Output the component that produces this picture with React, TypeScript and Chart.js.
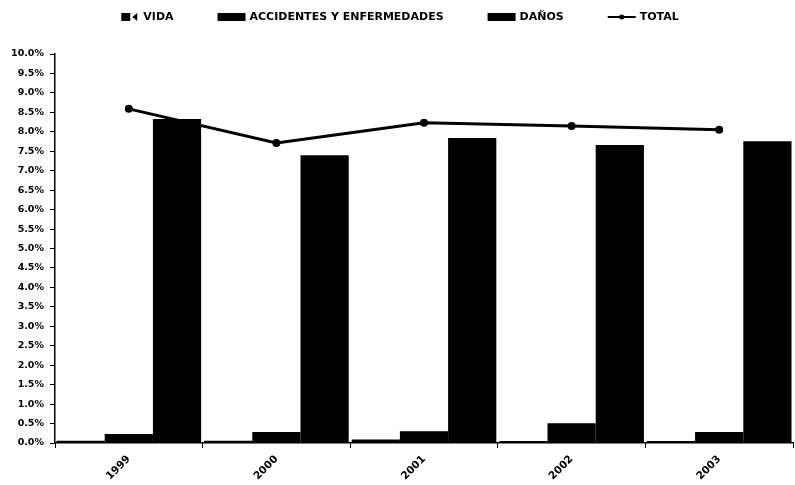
import React, { useEffect, useRef } from "react";
import { Chart, registerables } from "chart.js";

Chart.register(...registerables);

const categories = ["1999", "2000", "2001", "2002", "2003"];
const vida = [0.06, 0.06, 0.09, 0.05, 0.05];
const accidentes = [0.23, 0.28, 0.3, 0.51, 0.28];
const danos = [8.33, 7.4, 7.84, 7.66, 7.76];
const total = [8.59, 7.71, 8.23, 8.15, 8.05];
const yTickLabels = Array.from({ length: 21 }, (_, i) => (i * 0.5).toFixed(1) + "%");

const FONT = "'DejaVu Sans', 'Liberation Sans', Arial, sans-serif";

const legendPlugin = {
  id: "customLegend",
  afterDraw(chart: any) {
    const ctx = chart.ctx;
    ctx.save();
    ctx.font = `bold 11px ${FONT}`;
    ctx.fillStyle = "#000";
    ctx.strokeStyle = "#000";
    ctx.textBaseline = "middle";
    const y = 17;
    const bars = chart.data.datasets.filter((d: any) => d.type !== "line");
    const lines = chart.data.datasets.filter((d: any) => d.type === "line");
    const items = [...bars, ...lines].map((d: any) => ({ label: d.label, type: d.type || "bar" }));
    const gapMarker = 4;
    const gapItem = 44;
    const mw = (i: number) => (i === 0 ? 18 : 28);
    const widths = items.map((it: any, i: number) => mw(i) + gapMarker + ctx.measureText(it.label).width);
    const totalW = widths.reduce((a: number, b: number) => a + b, 0) + gapItem * (items.length - 1);
    let x = 400 - totalW / 2;
    items.forEach((it: any, i: number) => {
      const markerW = mw(i);
      if (it.type === "line") {
        ctx.lineWidth = 2;
        ctx.beginPath();
        ctx.moveTo(x, y);
        ctx.lineTo(x + markerW, y);
        ctx.stroke();
        ctx.beginPath();
        ctx.arc(x + markerW / 2, y, 2.5, 0, Math.PI * 2);
        ctx.fill();
      } else if (i === 0) {
        ctx.fillRect(x, y - 4, 9, 8);
        ctx.beginPath();
        ctx.moveTo(x + 11, y);
        ctx.lineTo(x + 16, y - 4);
        ctx.lineTo(x + 16, y + 4);
        ctx.closePath();
        ctx.fill();
      } else {
        ctx.fillRect(x, y - 4, markerW, 8);
      }
      ctx.fillText(it.label, x + markerW + gapMarker, y + 0.5);
      x += widths[i] + gapItem;
    });
    ctx.restore();
  },
};

export default function App() {
  const ref = useRef<HTMLCanvasElement>(null);
  useEffect(() => {
    document.body.style.margin = "0";
    document.body.style.overflow = "hidden";
    const chart = new Chart(ref.current!, {
      type: "bar",
      data: {
        labels: categories,
        datasets: [
          { label: "VIDA", data: vida, backgroundColor: "#000", order: 1 },
          { label: "ACCIDENTES Y ENFERMEDADES", data: accidentes, backgroundColor: "#000", order: 1 },
          { label: "DAÑOS", data: danos, backgroundColor: "#000", order: 1 },
          { type: "line", label: "TOTAL", data: total, borderColor: "#000", backgroundColor: "#000", borderWidth: 3, pointRadius: 2.5, pointBackgroundColor: "#000", order: 0 } as any,
        ],
      },
      options: {
        responsive: false,
        animation: false,
        layout: { padding: { top: 54, left: 0, right: 0, bottom: 0 } },
        plugins: { legend: { display: false }, tooltip: { enabled: false } },
        datasets: { bar: { barPercentage: 1, categoryPercentage: 0.98 } },
        scales: {
          x: {
            grid: { display: true, drawOnChartArea: false, drawTicks: true, tickLength: 5, color: "#000", offset: true },
            border: { display: true, color: "#000", width: 1.5 },
            ticks: { color: "#000", font: { family: FONT, size: 10.5, weight: "bold" }, maxRotation: 45, minRotation: 45, padding: 5 },
            afterFit: (s: any) => { s.height = 42; },
          },
          y: {
            min: 0,
            max: 10,
            grid: { display: true, drawOnChartArea: false, drawTicks: true, tickLength: 5, color: "#000" },
            border: { display: true, color: "#000", width: 1.5 },
            ticks: {
              stepSize: 0.5,
              color: "#000",
              padding: 6,
              font: { family: FONT, size: 9.5, weight: "bold" },
              callback: (_v: any, i: number) => yTickLabels[i],
            },
            afterFit: (s: any) => { s.width = 55; },
          },
        },
      },
      plugins: [legendPlugin],
    });
    return () => chart.destroy();
  }, []);
  return (
    <div style={{ position: "absolute", left: 0, top: 0, width: 795, height: 485, overflow: "hidden", background: "#fff" }}>
      <canvas ref={ref} width={800} height={485} style={{ width: 800, height: 485, display: "block" }} />
    </div>
  );
}
